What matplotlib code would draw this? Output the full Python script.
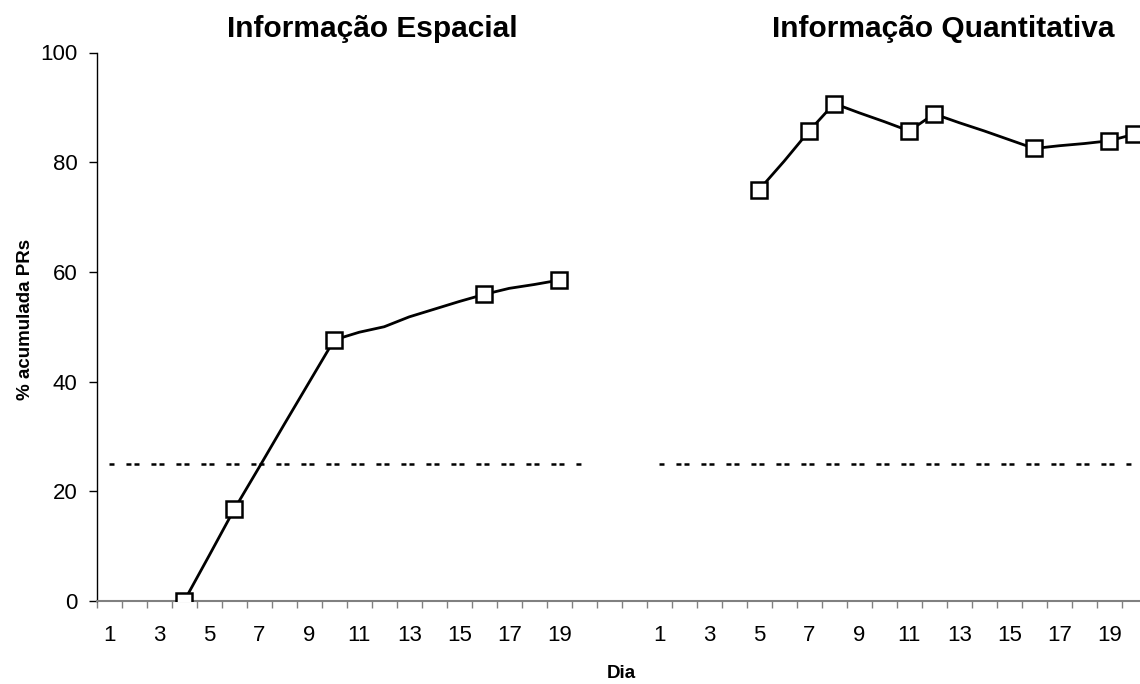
import matplotlib.pyplot as plt

plt.rcParams['font.family'] = ['Liberation Sans', 'DejaVu Sans']
plt.rcParams['lines.scale_dashes'] = False

days = list(range(1, 21))
day_ticks = [1, 3, 5, 7, 9, 11, 13, 15, 17, 19]

# cumulative % of PRs per day (left panel: spatial, right panel: quantitative)
spatial_days = [4, 5, 6, 7, 8, 9, 10, 11, 12, 13, 14, 15, 16, 17, 18, 19]
spatial_pct = [0, 8.3, 16.7, 24.4, 32.2, 39.9, 47.6, 49.0, 50.0, 51.8, 53.2, 54.6, 55.9, 57.0, 57.7, 58.5]
spatial_marked = [4, 6, 10, 16, 19]

quant_days = [5, 6, 7, 8, 9, 10, 11, 12, 13, 14, 15, 16, 17, 18, 19, 20]
quant_pct = [75.0, 80.2, 85.7, 90.7, 89.0, 87.4, 85.7, 88.8, 87.2, 85.7, 84.1, 82.5, 83.0, 83.4, 83.9, 85.1]
quant_marked = [5, 7, 8, 11, 12, 16, 19, 20]

chance = 25
gap = 2  # empty categories between the two panels

fig = plt.figure(figsize=(11.4, 6.84), dpi=100)
ax = fig.add_axes([96.7 / 1140, 83 / 684, 1050 / 1140, 548.5 / 684])


def pos(d, panel):
    return d - 1 + panel * (len(days) + gap)


for panel, (dd, vals, marked) in enumerate([(spatial_days, spatial_pct, spatial_marked),
                                              (quant_days, quant_pct, quant_marked)]):
    xs = [pos(d, panel) for d in dd]
    every = [dd.index(d) for d in marked]
    ax.plot(xs, vals, color='black', lw=2, marker='s', markevery=every,
            markersize=12, markerfacecolor='white', markeredgecolor='black',
            markeredgewidth=1.8, zorder=3)
    ax.plot([pos(d, panel) for d in days], [chance] * len(days), color='black',
            lw=1.8, zorder=2, linestyle=(5.8, (3.6, 2.2, 3.6, 8.6)))

n = 2 * len(days) + gap
ax.set_xlim(-0.5, n - 0.5)
ax.set_ylim(0, 100)

ax.set_xticks([i - 0.5 for i in range(n + 1)])
ax.set_xticklabels([])
ax.set_xticks([pos(d, p) for p in (0, 1) for d in day_ticks], minor=True)
ax.set_xticklabels([str(d) for p in (0, 1) for d in day_ticks], minor=True)
ax.tick_params(axis='x', which='major', direction='out', length=5, width=1, color='#808080')
ax.tick_params(axis='x', which='minor', length=0, labelsize=16, pad=17)

ax.set_yticks([0, 20, 40, 60, 80, 100])
ax.tick_params(axis='y', direction='out', length=6, width=1, labelsize=16, pad=8)

ax.spines['top'].set_visible(False)
ax.spines['right'].set_visible(False)
ax.spines['bottom'].set_color('#808080')
ax.spines['bottom'].set_linewidth(1.5)
ax.spines['left'].set_linewidth(1)

fig.text(26 / 1140, 1 - 319 / 684, '% acumulada PRs', rotation=90, fontsize=13.5,
         fontweight='bold', ha='center', va='center')
fig.text(621 / 1140, 1 - 674 / 684, 'Dia', fontsize=13.5, fontweight='bold',
         ha='center', va='center')
fig.text(372 / 1140, 1 - 37 / 684, 'Informação Espacial', fontsize=21.5,
         fontweight='bold', ha='center', va='baseline')
fig.text(943 / 1140, 1 - 37 / 684, 'Informação Quantitativa', fontsize=21.5,
         fontweight='bold', ha='center', va='baseline')

fig.savefig('out.png', dpi=100)
